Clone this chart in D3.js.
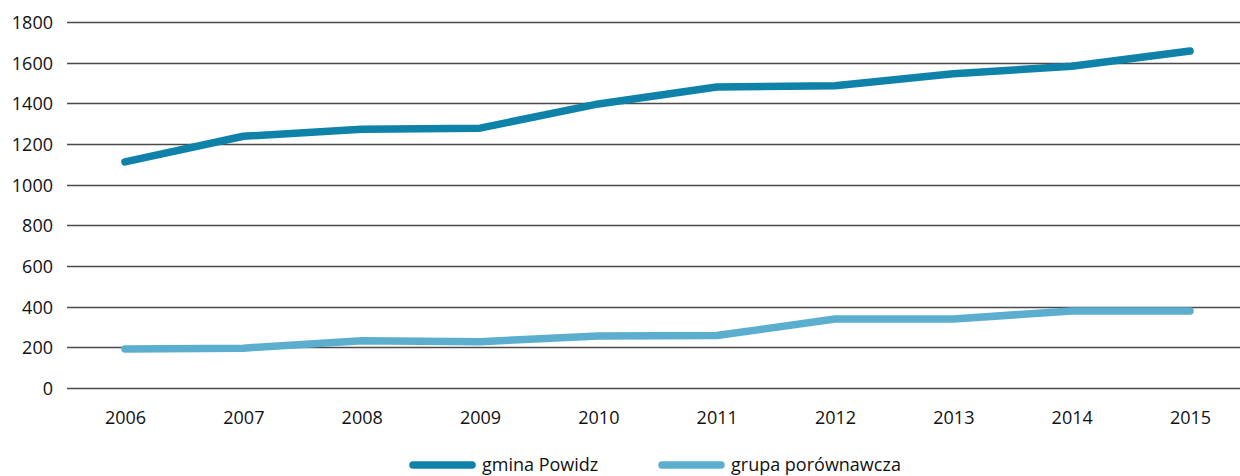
<!DOCTYPE html>
<html>
<head>
<meta charset="utf-8">
<script src="https://cdn.jsdelivr.net/npm/d3@7"></script>
<style>
  html, body { margin: 0; padding: 0; background: #fff; }
  svg { display: block; }
  text { font-family: "Open Sans", "Noto Sans", sans-serif; fill: #111; }
</style>
</head>
<body>
<svg id="chart" width="1240" height="476"></svg>
<script>
// Years on the horizontal axis
const years = [2006, 2007, 2008, 2009, 2010, 2011, 2012, 2013, 2014, 2015];
// Series values
const gminaPowidz = [1112, 1238, 1272, 1278, 1397, 1480, 1486, 1546, 1582, 1657];
const grupaPorownawcza = [192, 196, 232, 228, 256, 258, 339, 339, 379, 379];
// Axis ticks
const yTicks = [0, 200, 400, 600, 800, 1000, 1200, 1400, 1600, 1800];
// Legend labels
const seriesNames = ["gmina Powidz", "grupa porównawcza"];
const seriesColors = ["#0f82a9", "#5caecf"];

const svg = d3.select("#chart");

const x = d3.scalePoint().domain(years).range([125, 1190]);
const y = d3.scaleLinear().domain([0, 1800]).range([388, 22]);

const labelFont = "'Open Sans', 'Noto Sans', sans-serif";

// Horizontal gridlines
svg.append("g")
  .selectAll("line")
  .data(yTicks)
  .join("line")
  .attr("x1", 67).attr("x2", 1240)
  .attr("y1", d => Math.round(y(d)) + 0.5)
  .attr("y2", d => Math.round(y(d)) + 0.5)
  .attr("stroke", "#4a4a4a")
  .attr("stroke-width", 1.3);

// Y axis labels
const yAxis = d3.axisLeft(y).tickValues(yTicks).tickFormat(d3.format("d"))
  .tickSize(0).tickPadding(0);
svg.append("g")
  .attr("transform", "translate(53,0)")
  .call(yAxis)
  .call(g => g.select(".domain").remove())
  .call(g => g.selectAll("text")
    .style("font-family", labelFont)
    .style("font-size", "18px")
    .attr("fill", "#111")
    .attr("dy", "0.36em"));

// X axis labels
const xAxis = d3.axisBottom(x).tickFormat(d3.format("d")).tickSize(0).tickPadding(0);
svg.append("g")
  .attr("transform", "translate(0,411)")
  .call(xAxis)
  .call(g => g.select(".domain").remove())
  .call(g => g.selectAll("text")
    .style("font-family", labelFont)
    .style("font-size", "18px")
    .attr("fill", "#111")
    .attr("dy", "0.71em"));

// Lines
const line = d3.line()
  .x((d, i) => x(years[i]))
  .y(d => y(d));

[
  { vals: grupaPorownawcza, color: seriesColors[1] },
  { vals: gminaPowidz, color: seriesColors[0] }
].forEach(s => {
  svg.append("path")
    .datum(s.vals)
    .attr("d", line)
    .attr("fill", "none")
    .attr("stroke", s.color)
    .attr("stroke-width", 7.5)
    .attr("stroke-linecap", "round")
    .attr("stroke-linejoin", "round");
});

// Legend
const legendItems = [
  { name: seriesNames[0], color: seriesColors[0], x: 413 },
  { name: seriesNames[1], color: seriesColors[1], x: 662 }
];
const lg = svg.append("g");
legendItems.forEach(it => {
  lg.append("line")
    .attr("x1", it.x).attr("x2", it.x + 59)
    .attr("y1", 465).attr("y2", 465)
    .attr("stroke", it.color)
    .attr("stroke-width", 7.5)
    .attr("stroke-linecap", "round");
  lg.append("text")
    .attr("x", it.x + 69)
    .attr("y", 471)
    .style("font-family", labelFont)
    .style("font-size", "18px")
    .text(it.name);
});
</script>
</body>
</html>
